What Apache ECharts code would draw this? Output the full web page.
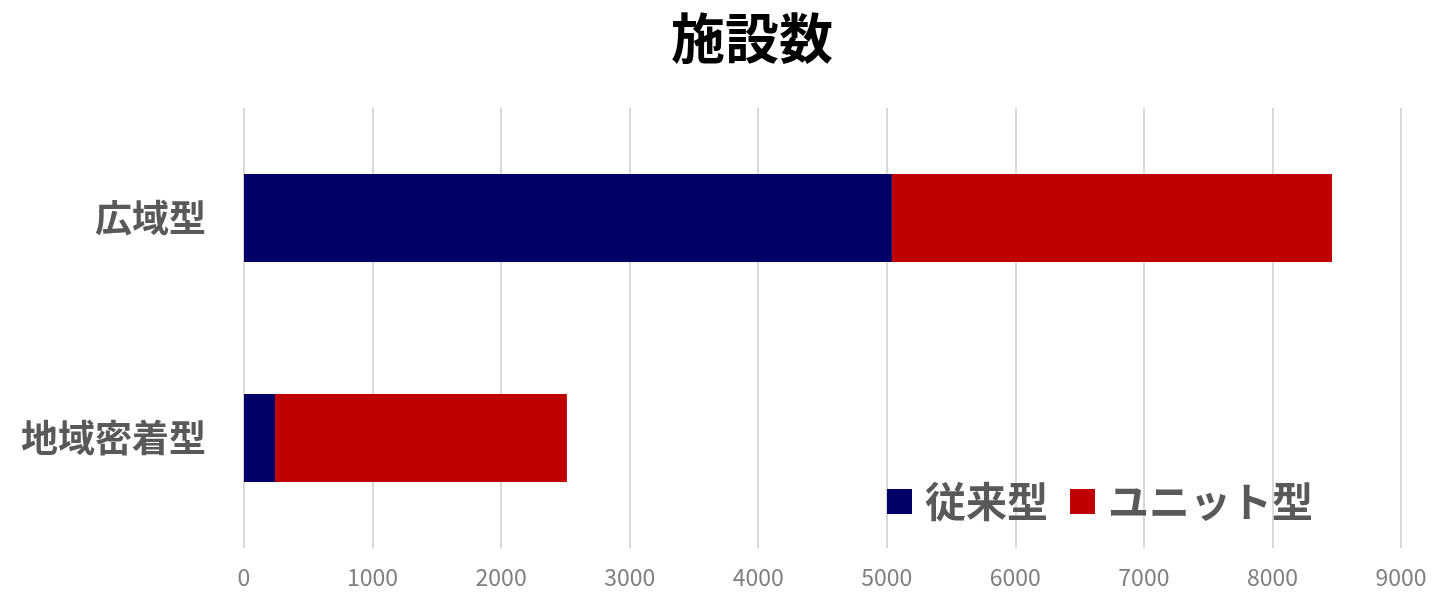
<!DOCTYPE html>
<html>
<head>
<meta charset="utf-8">
<script src="https://cdn.jsdelivr.net/npm/echarts@6/dist/echarts.min.js"></script>
<style>
html, body { margin: 0; padding: 0; background: #fff; }
#chart { width: 1435px; height: 599px; }
</style>
</head>
<body>
<div id="chart"></div>
<script>
// 施設数 data
var categories = ['地域密着型', '広域型'];
var seriesNames = ['従来型', 'ユニット型'];
var conventional = [241, 5040];
var unit = [2271, 3423];
var xTicks = [0, 1000, 2000, 3000, 4000, 5000, 6000, 7000, 8000, 9000];

var font = '"Noto Sans CJK JP", "Noto Sans", sans-serif';
var myChart = echarts.init(document.getElementById('chart'));

myChart.setOption({
    animation: false,
    title: {
        text: '施設数',
        left: 666,
        top: 6,
        textStyle: {
            fontFamily: font,
            fontSize: 54,
            fontWeight: 'bold',
            color: '#000'
        }
    },
    legend: {
        data: seriesNames,
        left: 882,
        top: 476,
        icon: 'rect',
        itemWidth: 25,
        itemHeight: 25,
        itemGap: 22,
        textStyle: {
            fontFamily: font,
            fontSize: 41,
            fontWeight: 'bold',
            color: '#595959',
            padding: [0, 0, 0, 8]
        }
    },
    grid: {
        left: 244,
        right: 34,
        top: 108,
        bottom: 51
    },
    xAxis: {
        type: 'value',
        min: xTicks[0],
        max: xTicks[xTicks.length - 1],
        interval: 1000,
        axisLine: { show: false },
        axisTick: { show: false },
        splitLine: { lineStyle: { color: '#d9d9d9', width: 2 } },
        axisLabel: {
            fontFamily: font,
            fontSize: 23,
            color: '#7f7f7f',
            margin: 18,
            formatter: function (v) { return String(v); }
        }
    },
    yAxis: {
        type: 'category',
        data: categories,
        axisLine: { show: false },
        axisTick: { show: false },
        axisLabel: {
            fontFamily: font,
            fontSize: 37,
            fontWeight: 'bold',
            color: '#595959',
            margin: 38
        }
    },
    series: [
        {
            name: seriesNames[0],
            type: 'bar',
            stack: 'total',
            data: conventional,
            barWidth: '40%',
            itemStyle: { color: '#000066' }
        },
        {
            name: seriesNames[1],
            type: 'bar',
            stack: 'total',
            data: unit,
            barWidth: '40%',
            itemStyle: { color: '#c00000' }
        }
    ]
});
</script>
</body>
</html>
